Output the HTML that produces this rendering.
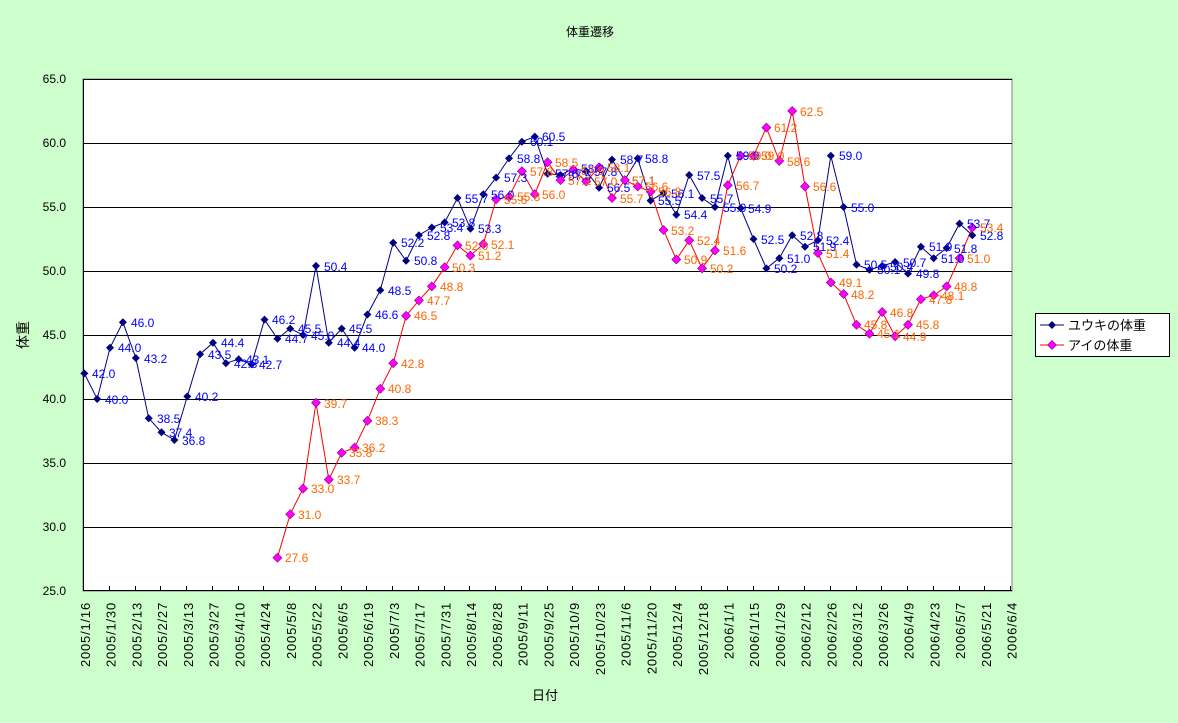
<!DOCTYPE html>
<html><head><meta charset="utf-8"><style>
html,body{margin:0;padding:0;background:#ccffcc;}
svg{display:block;font-family:"Liberation Sans","Noto Sans CJK JP",sans-serif;}
.b{fill:#0000ff;font-size:12px}
.o{fill:#ff6600;font-size:12px}
.t{font-size:12px;fill:#000}
.d{font-size:13px;fill:#000;letter-spacing:0.8px}
</style></head><body>
<svg width="1178" height="723" viewBox="0 0 1178 723" xmlns="http://www.w3.org/2000/svg">
<defs>
<path id="n" d="M0,-4L4,0L0,4L-4,0Z" fill="#000080"/>
<path id="p" d="M0,-4.5L4.5,0L0,4.5L-4.5,0Z" fill="#ff00ff" stroke="#800080" stroke-width="0.6"/>
</defs>
<rect x="0" y="0" width="1178" height="723" fill="#ccffcc"/>
<text x="590" y="36" text-anchor="middle" class="t">体重遷移</text>
<rect x="83" y="79" width="929" height="512" fill="#fff" stroke="#808080" stroke-width="1"/>
<g stroke="#000" stroke-width="1">
<line x1="83" y1="79.5" x2="1012" y2="79.5"/>
<line x1="83" y1="143.5" x2="1012" y2="143.5"/>
<line x1="83" y1="207.5" x2="1012" y2="207.5"/>
<line x1="83" y1="271.5" x2="1012" y2="271.5"/>
<line x1="83" y1="335.5" x2="1012" y2="335.5"/>
<line x1="83" y1="399.5" x2="1012" y2="399.5"/>
<line x1="83" y1="463.5" x2="1012" y2="463.5"/>
<line x1="83" y1="527.5" x2="1012" y2="527.5"/>
<line x1="83" y1="590.5" x2="1012" y2="590.5"/>
<line x1="83.5" y1="79" x2="83.5" y2="591"/>
</g>
<path stroke="#000" stroke-width="1" d="M109.5,586v4M135.5,586v4M160.5,586v4M186.5,586v4M212.5,586v4M238.5,586v4M263.5,586v4M289.5,586v4M315.5,586v4M341.5,586v4M366.5,586v4M392.5,586v4M418.5,586v4M444.5,586v4M469.5,586v4M495.5,586v4M521.5,586v4M547.5,586v4M572.5,586v4M598.5,586v4M624.5,586v4M650.5,586v4M675.5,586v4M701.5,586v4M727.5,586v4M753.5,586v4M778.5,586v4M804.5,586v4M830.5,586v4M856.5,586v4M881.5,586v4M907.5,586v4M933.5,586v4M959.5,586v4M984.5,586v4M1010.5,586v4"/>
<g class="t" text-anchor="end">
<text x="66" y="83">65.0</text><text x="66" y="147">60.0</text><text x="66" y="211">55.0</text><text x="66" y="275">50.0</text><text x="66" y="339">45.0</text><text x="66" y="403">40.0</text><text x="66" y="467">35.0</text><text x="66" y="531">30.0</text><text x="66" y="595">25.0</text>
</g>
<text x="28" y="335" class="t" text-anchor="middle" transform="rotate(-90 28 335)" style="font-size:14px">体重</text>
<text x="545" y="700" class="t" text-anchor="middle" style="font-size:13px">日付</text>
<g class="d" text-anchor="end">
<text transform="translate(90,602) rotate(-90)">2005/1/16</text>
<text transform="translate(115.7,602) rotate(-90)">2005/1/30</text>
<text transform="translate(141.5,602) rotate(-90)">2005/2/13</text>
<text transform="translate(167.2,602) rotate(-90)">2005/2/27</text>
<text transform="translate(193,602) rotate(-90)">2005/3/13</text>
<text transform="translate(218.7,602) rotate(-90)">2005/3/27</text>
<text transform="translate(244.4,602) rotate(-90)">2005/4/10</text>
<text transform="translate(270.2,602) rotate(-90)">2005/4/24</text>
<text transform="translate(295.9,602) rotate(-90)">2005/5/8</text>
<text transform="translate(321.7,602) rotate(-90)">2005/5/22</text>
<text transform="translate(347.4,602) rotate(-90)">2005/6/5</text>
<text transform="translate(373.1,602) rotate(-90)">2005/6/19</text>
<text transform="translate(398.9,602) rotate(-90)">2005/7/3</text>
<text transform="translate(424.6,602) rotate(-90)">2005/7/17</text>
<text transform="translate(450.4,602) rotate(-90)">2005/7/31</text>
<text transform="translate(476.1,602) rotate(-90)">2005/8/14</text>
<text transform="translate(501.8,602) rotate(-90)">2005/8/28</text>
<text transform="translate(527.6,602) rotate(-90)">2005/9/11</text>
<text transform="translate(553.3,602) rotate(-90)">2005/9/25</text>
<text transform="translate(579.1,602) rotate(-90)">2005/10/9</text>
<text transform="translate(604.8,602) rotate(-90)">2005/10/23</text>
<text transform="translate(630.5,602) rotate(-90)">2005/11/6</text>
<text transform="translate(656.3,602) rotate(-90)">2005/11/20</text>
<text transform="translate(682,602) rotate(-90)">2005/12/4</text>
<text transform="translate(707.8,602) rotate(-90)">2005/12/18</text>
<text transform="translate(733.5,602) rotate(-90)">2006/1/1</text>
<text transform="translate(759.2,602) rotate(-90)">2006/1/15</text>
<text transform="translate(785,602) rotate(-90)">2006/1/29</text>
<text transform="translate(810.7,602) rotate(-90)">2006/2/12</text>
<text transform="translate(836.5,602) rotate(-90)">2006/2/26</text>
<text transform="translate(862.2,602) rotate(-90)">2006/3/12</text>
<text transform="translate(887.9,602) rotate(-90)">2006/3/26</text>
<text transform="translate(913.7,602) rotate(-90)">2006/4/9</text>
<text transform="translate(939.4,602) rotate(-90)">2006/4/23</text>
<text transform="translate(965.2,602) rotate(-90)">2006/5/7</text>
<text transform="translate(990.9,602) rotate(-90)">2006/5/21</text>
<text transform="translate(1016.6,602) rotate(-90)">2006/6/4</text>
</g>

<polyline fill="none" stroke="#000080" stroke-width="1" points="84.3,373.4 97.2,399 110,347.8 122.9,322.2 135.8,358 148.7,418.2 161.5,432.3 174.4,440 187.3,396.4 200.1,354.2 213,342.7 225.9,363.2 238.7,359.3 251.6,364.4 264.5,319.6 277.4,338.8 290.2,328.6 303.1,335 316,265.9 328.8,342.7 341.7,328.6 354.6,347.8 367.4,314.5 380.3,290.2 393.2,242.8 406.1,260.8 418.9,235.2 431.8,227.5 444.7,222.4 457.5,198 470.4,228.8 483.3,194.2 496.1,177.6 509,158.4 521.9,141.7 534.8,136.6 547.6,173.7 560.5,175 573.4,168.6 586.2,171.2 599.1,187.8 612,159.6 624.8,180.1 637.7,158.4 650.6,200.6 663.5,192.9 676.3,214.7 689.2,175 702.1,198 714.9,207 727.8,155.8 740.7,208.3 753.5,239 766.4,268.4 779.3,258.2 792.2,235.2 805,246.7 817.9,240.3 830.8,155.8 843.6,207 856.5,264.6 869.4,269.7 882.2,265.9 895.1,262 908,273.6 920.9,246.7 933.7,258.2 946.6,248 959.5,223.6 972.3,235.2"/>
<polyline fill="none" stroke="#ff0000" stroke-width="1" points="277.4,557.7 290.2,514.2 303.1,488.6 316,402.8 328.8,479.6 341.7,452.8 354.6,447.6 367.4,420.8 380.3,388.8 393.2,363.2 406.1,315.8 418.9,300.4 431.8,286.4 444.7,267.2 457.5,245.4 470.4,255.6 483.3,244.1 496.1,199.3 509,196.8 521.9,171.2 534.8,194.2 547.6,162.2 560.5,180.1 573.4,169.9 586.2,181.4 599.1,167.3 612,198 624.8,180.1 637.7,186.5 650.6,191.6 663.5,230 676.3,259.5 689.2,240.3 702.1,268.4 714.9,250.5 727.8,185.2 740.7,155.8 753.5,155.8 766.4,127.6 779.3,160.9 792.2,111 805,186.5 817.9,253.1 830.8,282.5 843.6,294 856.5,324.8 869.4,333.7 882.2,312 895.1,336.3 908,324.8 920.9,299.2 933.7,295.3 946.6,286.4 959.5,258.2 972.3,227.5"/>

<g>
<use href="#n" x="84.3" y="373.4"/><use href="#n" x="97.2" y="399"/><use href="#n" x="110" y="347.8"/><use href="#n" x="122.9" y="322.2"/><use href="#n" x="135.8" y="358"/><use href="#n" x="148.7" y="418.2"/><use href="#n" x="161.5" y="432.3"/><use href="#n" x="174.4" y="440"/><use href="#n" x="187.3" y="396.4"/><use href="#n" x="200.1" y="354.2"/><use href="#n" x="213" y="342.7"/><use href="#n" x="225.9" y="363.2"/><use href="#n" x="238.7" y="359.3"/><use href="#n" x="251.6" y="364.4"/><use href="#n" x="264.5" y="319.6"/><use href="#n" x="277.4" y="338.8"/><use href="#n" x="290.2" y="328.6"/><use href="#n" x="303.1" y="335"/><use href="#n" x="316" y="265.9"/><use href="#n" x="328.8" y="342.7"/><use href="#n" x="341.7" y="328.6"/><use href="#n" x="354.6" y="347.8"/><use href="#n" x="367.4" y="314.5"/><use href="#n" x="380.3" y="290.2"/><use href="#n" x="393.2" y="242.8"/><use href="#n" x="406.1" y="260.8"/><use href="#n" x="418.9" y="235.2"/><use href="#n" x="431.8" y="227.5"/><use href="#n" x="444.7" y="222.4"/><use href="#n" x="457.5" y="198"/><use href="#n" x="470.4" y="228.8"/><use href="#n" x="483.3" y="194.2"/><use href="#n" x="496.1" y="177.6"/><use href="#n" x="509" y="158.4"/><use href="#n" x="521.9" y="141.7"/><use href="#n" x="534.8" y="136.6"/><use href="#n" x="547.6" y="173.7"/><use href="#n" x="560.5" y="175"/><use href="#n" x="573.4" y="168.6"/><use href="#n" x="586.2" y="171.2"/><use href="#n" x="599.1" y="187.8"/><use href="#n" x="612" y="159.6"/><use href="#n" x="624.8" y="180.1"/><use href="#n" x="637.7" y="158.4"/><use href="#n" x="650.6" y="200.6"/><use href="#n" x="663.5" y="192.9"/><use href="#n" x="676.3" y="214.7"/><use href="#n" x="689.2" y="175"/><use href="#n" x="702.1" y="198"/><use href="#n" x="714.9" y="207"/><use href="#n" x="727.8" y="155.8"/><use href="#n" x="740.7" y="208.3"/><use href="#n" x="753.5" y="239"/><use href="#n" x="766.4" y="268.4"/><use href="#n" x="779.3" y="258.2"/><use href="#n" x="792.2" y="235.2"/><use href="#n" x="805" y="246.7"/><use href="#n" x="817.9" y="240.3"/><use href="#n" x="830.8" y="155.8"/><use href="#n" x="843.6" y="207"/><use href="#n" x="856.5" y="264.6"/><use href="#n" x="869.4" y="269.7"/><use href="#n" x="882.2" y="265.9"/><use href="#n" x="895.1" y="262"/><use href="#n" x="908" y="273.6"/><use href="#n" x="920.9" y="246.7"/><use href="#n" x="933.7" y="258.2"/><use href="#n" x="946.6" y="248"/><use href="#n" x="959.5" y="223.6"/><use href="#n" x="972.3" y="235.2"/>
</g>
<g>
<use href="#p" x="277.4" y="557.7"/><use href="#p" x="290.2" y="514.2"/><use href="#p" x="303.1" y="488.6"/><use href="#p" x="316" y="402.8"/><use href="#p" x="328.8" y="479.6"/><use href="#p" x="341.7" y="452.8"/><use href="#p" x="354.6" y="447.6"/><use href="#p" x="367.4" y="420.8"/><use href="#p" x="380.3" y="388.8"/><use href="#p" x="393.2" y="363.2"/><use href="#p" x="406.1" y="315.8"/><use href="#p" x="418.9" y="300.4"/><use href="#p" x="431.8" y="286.4"/><use href="#p" x="444.7" y="267.2"/><use href="#p" x="457.5" y="245.4"/><use href="#p" x="470.4" y="255.6"/><use href="#p" x="483.3" y="244.1"/><use href="#p" x="496.1" y="199.3"/><use href="#p" x="509" y="196.8"/><use href="#p" x="521.9" y="171.2"/><use href="#p" x="534.8" y="194.2"/><use href="#p" x="547.6" y="162.2"/><use href="#p" x="560.5" y="180.1"/><use href="#p" x="573.4" y="169.9"/><use href="#p" x="586.2" y="181.4"/><use href="#p" x="599.1" y="167.3"/><use href="#p" x="612" y="198"/><use href="#p" x="624.8" y="180.1"/><use href="#p" x="637.7" y="186.5"/><use href="#p" x="650.6" y="191.6"/><use href="#p" x="663.5" y="230"/><use href="#p" x="676.3" y="259.5"/><use href="#p" x="689.2" y="240.3"/><use href="#p" x="702.1" y="268.4"/><use href="#p" x="714.9" y="250.5"/><use href="#p" x="727.8" y="185.2"/><use href="#p" x="740.7" y="155.8"/><use href="#p" x="753.5" y="155.8"/><use href="#p" x="766.4" y="127.6"/><use href="#p" x="779.3" y="160.9"/><use href="#p" x="792.2" y="111"/><use href="#p" x="805" y="186.5"/><use href="#p" x="817.9" y="253.1"/><use href="#p" x="830.8" y="282.5"/><use href="#p" x="843.6" y="294"/><use href="#p" x="856.5" y="324.8"/><use href="#p" x="869.4" y="333.7"/><use href="#p" x="882.2" y="312"/><use href="#p" x="895.1" y="336.3"/><use href="#p" x="908" y="324.8"/><use href="#p" x="920.9" y="299.2"/><use href="#p" x="933.7" y="295.3"/><use href="#p" x="946.6" y="286.4"/><use href="#p" x="959.5" y="258.2"/><use href="#p" x="972.3" y="227.5"/>
</g>

<g class="b">
<text x="92" y="378">42.0</text><text x="105" y="404">40.0</text><text x="118" y="352">44.0</text><text x="131" y="327">46.0</text><text x="144" y="363">43.2</text><text x="157" y="423">38.5</text><text x="169" y="437">37.4</text><text x="182" y="445">36.8</text><text x="195" y="401">40.2</text><text x="208" y="359">43.5</text><text x="221" y="347">44.4</text><text x="234" y="368">42.8</text><text x="246" y="364">43.1</text><text x="259" y="369">42.7</text><text x="272" y="324">46.2</text><text x="285" y="343">44.7</text><text x="298" y="333">45.5</text><text x="311" y="340">45.0</text><text x="324" y="271">50.4</text><text x="337" y="347">44.4</text><text x="349" y="333">45.5</text><text x="362" y="352">44.0</text><text x="375" y="319">46.6</text><text x="388" y="295">48.5</text><text x="401" y="247">52.2</text><text x="414" y="265">50.8</text><text x="427" y="240">52.8</text><text x="440" y="232">53.4</text><text x="452" y="227">53.8</text><text x="465" y="203">55.7</text><text x="478" y="233">53.3</text><text x="491" y="199">56.0</text><text x="504" y="182">57.3</text><text x="517" y="163">58.8</text><text x="530" y="146">60.1</text><text x="542" y="141">60.5</text><text x="555" y="178">57.6</text><text x="568" y="180">57.5</text><text x="581" y="173">58.0</text><text x="594" y="176">57.8</text><text x="607" y="192">56.5</text><text x="620" y="164">58.7</text><text x="632" y="185">57.1</text><text x="645" y="163">58.8</text><text x="658" y="205">55.5</text><text x="671" y="198">56.1</text><text x="684" y="219">54.4</text><text x="697" y="180">57.5</text><text x="710" y="203">55.7</text><text x="723" y="212">55.0</text><text x="736" y="160">59.0</text><text x="748" y="213">54.9</text><text x="761" y="244">52.5</text><text x="774" y="273">50.2</text><text x="787" y="263">51.0</text><text x="800" y="240">52.8</text><text x="813" y="251">51.9</text><text x="826" y="245">52.4</text><text x="839" y="160">59.0</text><text x="851" y="212">55.0</text><text x="864" y="269">50.5</text><text x="877" y="274">50.1</text><text x="890" y="271">50.4</text><text x="903" y="267">50.7</text><text x="916" y="278">49.8</text><text x="929" y="251">51.9</text><text x="941" y="263">51.0</text><text x="954" y="253">51.8</text><text x="967" y="228">53.7</text><text x="980" y="240">52.8</text>
</g>
<g class="o">
<text x="285" y="562">27.6</text><text x="298" y="519">31.0</text><text x="311" y="493">33.0</text><text x="324" y="408">39.7</text><text x="337" y="484">33.7</text><text x="349" y="457">35.8</text><text x="362" y="452">36.2</text><text x="375" y="425">38.3</text><text x="388" y="393">40.8</text><text x="401" y="368">42.8</text><text x="414" y="320">46.5</text><text x="427" y="305">47.7</text><text x="440" y="291">48.8</text><text x="452" y="272">50.3</text><text x="465" y="250">52.0</text><text x="478" y="260">51.2</text><text x="491" y="249">52.1</text><text x="504" y="204">55.6</text><text x="517" y="201">55.8</text><text x="530" y="176">57.8</text><text x="542" y="199">56.0</text><text x="555" y="167">58.5</text><text x="568" y="185">57.1</text><text x="581" y="175">57.9</text><text x="594" y="186">57.0</text><text x="607" y="172">58.1</text><text x="620" y="203">55.7</text><text x="632" y="185">57.1</text><text x="645" y="191">56.6</text><text x="658" y="196">56.8</text><text x="671" y="235">53.2</text><text x="684" y="264">50.9</text><text x="697" y="245">52.4</text><text x="710" y="273">50.2</text><text x="723" y="255">51.6</text><text x="736" y="190">56.7</text><text x="748" y="160">59.0</text><text x="761" y="160">59.0</text><text x="774" y="132">61.2</text><text x="787" y="166">58.6</text><text x="800" y="116">62.5</text><text x="813" y="191">56.6</text><text x="826" y="258">51.4</text><text x="839" y="287">49.1</text><text x="851" y="299">48.2</text><text x="864" y="329">45.8</text><text x="877" y="338">45.1</text><text x="890" y="317">46.8</text><text x="903" y="341">44.9</text><text x="916" y="329">45.8</text><text x="929" y="304">47.8</text><text x="941" y="300">48.1</text><text x="954" y="291">48.8</text><text x="967" y="263">51.0</text><text x="980" y="232">53.4</text>
</g>

<rect x="1035.5" y="313.5" width="134" height="43" fill="#fff" stroke="#000" stroke-width="1"/>
<line x1="1040" y1="325" x2="1064" y2="325" stroke="#000080"/>
<use href="#n" x="1052" y="325"/>
<text x="1068" y="330" class="t" style="font-size:13px">ユウキの体重</text>
<line x1="1040" y1="345" x2="1064" y2="345" stroke="#ff0000"/>
<use href="#p" x="1052" y="345"/>
<text x="1068" y="350" class="t" style="font-size:13px">アイの体重</text>
</svg>
</body></html>
